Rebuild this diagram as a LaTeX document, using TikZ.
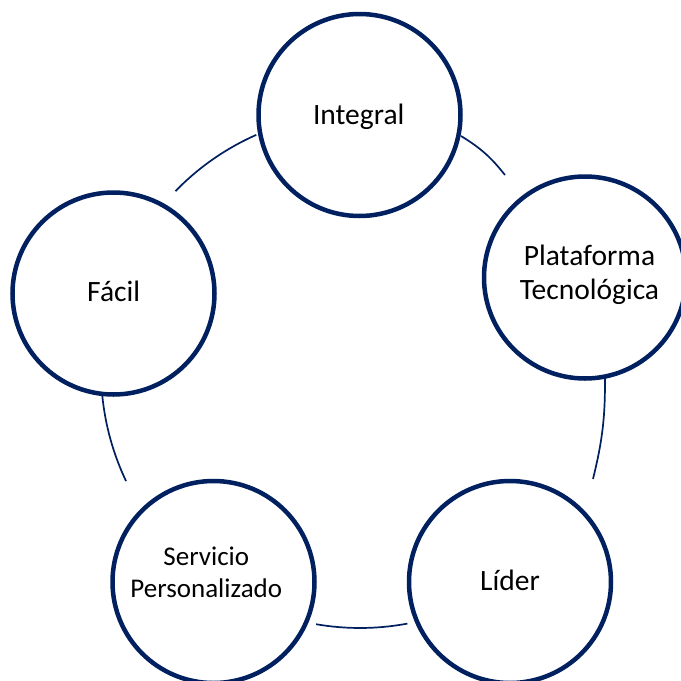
\documentclass[tikz,border=0pt]{standalone}
\usepackage{fontspec}
\setmainfont{Carlito}
\definecolor{navy}{HTML}{002060}
\begin{document}
\begin{tikzpicture}[x=1pt,y=1pt,
  bubble/.style={circle, draw=navy, line width=4.5pt, fill=white, minimum size=202pt, inner sep=0pt},
  lbl/.style={inner sep=0pt, align=center, anchor=base, font=\fontsize{29.5}{34}\selectfont},
  lblsmall/.style={inner sep=0pt, align=center, anchor=base, font=\fontsize{27}{32}\selectfont},
  link/.style={draw=navy, line width=1.7pt}]
\useasboundingbox (0,0) rectangle (681,-681);
\clip (0,0) rectangle (681,-681);
\fill[white] (0,0) rectangle (681,-681);
\coordinate (C) at (360,-370);
% connectors
\path (C) ++(135.9:257) coordinate (fi1);
\path (C) ++(185.75:259) coordinate (sf1);
\path (C) ++(260.2:258) coordinate (ls1);
\coordinate (ip1) at (461,-136);
\coordinate (ip2) at (505,-175);
\coordinate (pl1) at (605,-378);
\coordinate (pl2) at (593,-479);
\draw[link] (fi1) arc[start angle=135.9, end angle=113.8, radius=257pt];
\draw[link] (sf1) arc[start angle=185.75, end angle=205.4, radius=259pt];
\draw[link] (ls1) arc[start angle=260.2, end angle=280.6, radius=258pt];
\draw[link] (ip1) to[bend left=10] (ip2);
\draw[link] (pl1) to[bend left=7] (pl2);
% circles
\node[bubble] (I) at (359.5,-115) {};
\node[bubble] (P) at (585,-277.5) {};
\node[bubble] (L) at (510,-582) {};
\node[bubble] (S) at (213.5,-582) {};
\node[bubble] (F) at (113.5,-293.5) {};
% labels
\node[lbl] (It) at (358.7,-124) {Integral};
\node[lbl] (Pt) at (589.5,-299) {Plataforma\\Tecnológica};
\node[lbl] (Lt) at (510,-590) {Líder};
\node[lblsmall] (St) at (206.3,-597) {Servicio\\Personalizado};
\node[lbl] (Ft) at (113.7,-301.7) {Fácil};
\end{tikzpicture}
\end{document}
